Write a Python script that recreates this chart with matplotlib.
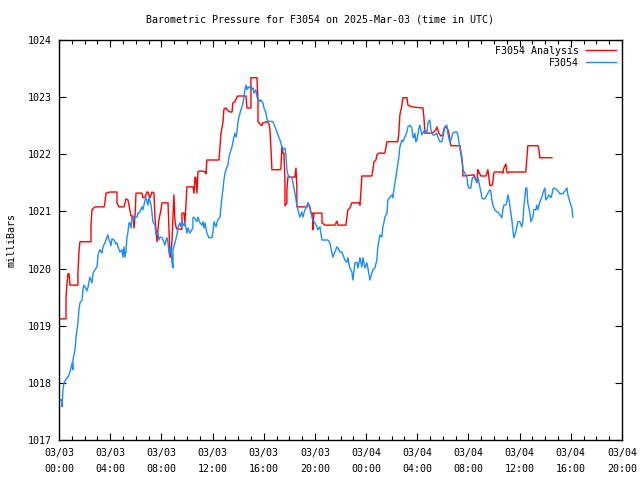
import matplotlib
matplotlib.use('Agg')
from matplotlib import pyplot as plt
from matplotlib.ticker import MultipleLocator

# hours since 2025-03-03 00:00 UTC, pressure in millibars
analysis_hours = [0.0, 0.55, 0.55, 0.62, 0.70, 0.78, 0.86, 1.48, 1.48, 1.56, 1.64, 2.50, 2.50, 2.58, 2.81,
                  3.52, 3.59, 3.67, 3.98, 4.53, 4.53, 4.69, 5.08, 5.16, 5.23, 5.39, 5.47, 5.63, 5.78, 5.86,
                  5.94, 6.02, 6.48, 6.56, 6.72, 6.88, 6.95, 7.11, 7.27, 7.42, 7.50, 7.66, 7.73, 7.81, 7.97,
                  8.05, 8.52, 8.59, 8.67, 8.75, 8.83, 8.91, 8.98, 9.06, 9.14, 9.22, 9.61, 9.61, 9.77, 9.84,
                  9.92, 10.00, 10.47, 10.55, 10.63, 10.70, 10.78, 10.86, 11.02, 11.48, 11.48, 11.56, 12.50,
                  12.58, 12.66, 12.81, 12.89, 13.05, 13.13, 13.36, 13.52, 13.59, 13.75, 13.91, 13.98, 14.61,
                  14.69, 15.00, 15.00, 15.47, 15.55, 15.55, 15.70, 15.86, 15.94, 16.25, 16.41, 16.48, 16.56,
                  16.64, 17.27, 17.34, 17.42, 17.50, 17.58, 17.66, 17.66, 17.81, 17.81, 17.89, 18.44, 18.52,
                  18.59, 18.59, 19.38, 19.45, 19.61, 19.69, 19.84, 19.84, 19.92, 20.55, 20.55, 20.78, 21.56,
                  21.72, 21.80, 22.42, 22.50, 22.58, 22.73, 22.89, 23.44, 23.52, 23.59, 23.67, 24.45, 24.53,
                  24.61, 24.77, 24.84, 25.00, 25.47, 25.63, 26.48, 26.56, 26.64, 26.80, 26.88, 27.19, 27.27,
                  27.58, 28.44, 28.52, 28.59, 29.14, 29.30, 29.45, 29.53, 29.69, 29.84, 30.00, 30.08, 30.16,
                  30.31, 30.39, 30.47, 30.63, 31.33, 31.48, 31.56, 31.56, 32.42, 32.50, 32.66, 32.73, 32.81,
                  32.97, 33.36, 33.44, 33.52, 33.59, 33.67, 33.83, 33.91, 33.98, 34.06, 34.61, 34.69, 34.77,
                  34.92, 35.00, 35.08, 35.16, 36.48, 36.56, 36.64, 37.42, 37.50, 37.58, 38.52]
analysis_mb = [1019.12, 1019.12, 1019.50, 1019.73, 1019.91, 1019.91, 1019.71, 1019.71, 1019.92, 1020.29,
               1020.47, 1020.47, 1020.75, 1021.03, 1021.08, 1021.08, 1021.15, 1021.32, 1021.34, 1021.34,
               1021.15, 1021.08, 1021.08, 1021.15, 1021.22, 1021.20, 1021.11, 1020.92, 1020.92, 1020.71,
               1020.92, 1021.32, 1021.32, 1021.24, 1021.25, 1021.34, 1021.34, 1021.24, 1021.34, 1021.32,
               1020.90, 1020.47, 1020.68, 1020.85, 1021.03, 1021.15, 1021.15, 1020.68, 1020.20, 1020.20,
               1020.50, 1020.90, 1021.29, 1020.85, 1020.73, 1020.69, 1020.69, 1020.97, 1020.97, 1020.80,
               1021.11, 1021.43, 1021.43, 1021.32, 1021.60, 1021.59, 1021.32, 1021.69, 1021.71, 1021.69,
               1021.66, 1021.90, 1021.90, 1022.13, 1022.37, 1022.55, 1022.79, 1022.81, 1022.78, 1022.74,
               1022.74, 1022.90, 1022.92, 1023.00, 1023.02, 1023.02, 1022.81, 1022.81, 1023.34, 1023.34,
               1022.95, 1022.57, 1022.53, 1022.50, 1022.55, 1022.57, 1022.53, 1022.43, 1022.13, 1021.73,
               1021.73, 1021.74, 1022.13, 1022.02, 1022.02, 1021.50, 1021.10, 1021.15, 1021.38, 1021.60,
               1021.60, 1021.76, 1021.43, 1021.08, 1021.08, 1021.15, 1021.08, 1020.97, 1020.97, 1020.68,
               1020.97, 1020.97, 1020.80, 1020.76, 1020.76, 1020.83, 1020.76, 1020.76, 1020.89, 1021.03,
               1021.06, 1021.15, 1021.15, 1021.11, 1021.32, 1021.62, 1021.62, 1021.73, 1021.87, 1021.90,
               1021.99, 1022.02, 1022.02, 1022.22, 1022.22, 1022.37, 1022.69, 1022.86, 1022.99, 1022.99,
               1022.86, 1022.83, 1022.81, 1022.65, 1022.37, 1022.37, 1022.39, 1022.43, 1022.48, 1022.37,
               1022.32, 1022.34, 1022.44, 1022.48, 1022.46, 1022.43, 1022.37, 1022.15, 1022.15, 1021.95,
               1021.78, 1021.62, 1021.64, 1021.60, 1021.50, 1021.73, 1021.69, 1021.62, 1021.62, 1021.67,
               1021.73, 1021.60, 1021.46, 1021.45, 1021.52, 1021.67, 1021.69, 1021.69, 1021.67, 1021.76,
               1021.83, 1021.69, 1021.67, 1021.69, 1021.69, 1021.92, 1022.15, 1022.15, 1022.09, 1021.94,
               1021.94]

obs_hours = [0.0, 0.23, 0.23, 0.31, 0.39, 0.63, 0.70, 0.86, 1.02, 1.09, 1.09, 1.25, 1.33, 1.48, 1.56, 1.64,
             1.80, 1.88, 1.95, 2.19, 2.27, 2.42, 2.58, 2.66, 2.81, 2.97, 3.05, 3.20, 3.36, 3.44, 3.59, 3.75,
             3.83, 3.91, 3.98, 4.06, 4.14, 4.30, 4.45, 4.53, 4.61, 4.77, 4.92, 5.00, 5.08, 5.16, 5.23, 5.31,
             5.39, 5.47, 5.55, 5.63, 5.70, 5.86, 5.94, 6.09, 6.17, 6.33, 6.48, 6.56, 6.72, 6.80, 6.95, 7.03,
             7.19, 7.27, 7.34, 7.50, 7.58, 7.73, 7.81, 7.89, 8.05, 8.13, 8.28, 8.36, 8.44, 8.52, 8.59, 8.75,
             8.83, 8.91, 8.91, 9.06, 9.22, 9.30, 9.45, 9.53, 9.61, 9.77, 9.84, 9.92, 10.00, 10.08, 10.23,
             10.39, 10.47, 10.47, 10.55, 10.70, 10.78, 10.86, 11.02, 11.17, 11.25, 11.33, 11.41, 11.56,
             11.72, 11.95, 12.03, 12.11, 12.27, 12.34, 12.42, 12.58, 12.66, 12.73, 12.81, 12.89, 12.97,
             13.13, 13.20, 13.28, 13.44, 13.52, 13.59, 13.67, 13.75, 13.83, 13.91, 13.98, 14.06, 14.22,
             14.30, 14.38, 14.45, 14.53, 14.61, 14.69, 14.77, 14.84, 15.00, 15.08, 15.16, 15.23, 15.39,
             15.47, 15.55, 15.70, 15.78, 15.94, 16.02, 16.17, 16.25, 16.33, 16.72, 16.88, 17.03, 17.11,
             17.27, 17.42, 17.50, 17.66, 17.73, 17.81, 17.89, 18.05, 18.20, 18.28, 18.44, 18.59, 18.67,
             18.83, 18.98, 19.06, 19.22, 19.38, 19.45, 19.61, 19.77, 19.84, 20.00, 20.16, 20.23, 20.39,
             20.55, 21.02, 21.17, 21.33, 21.41, 21.56, 21.72, 21.80, 21.95, 22.11, 22.19, 22.34, 22.50,
             22.58, 22.73, 22.89, 22.97, 23.13, 23.28, 23.36, 23.52, 23.67, 23.75, 23.91, 24.06, 24.14,
             24.30, 24.45, 24.53, 24.69, 24.84, 24.92, 25.08, 25.23, 25.31, 25.39, 25.47, 25.63, 25.70,
             25.86, 26.02, 26.09, 26.17, 26.33, 26.41, 26.56, 26.64, 26.80, 26.88, 27.03, 27.19, 27.27,
             27.42, 27.58, 27.66, 27.73, 27.81, 27.89, 27.97, 28.13, 28.20, 28.36, 28.44, 28.59, 28.75,
             28.83, 28.98, 29.06, 29.22, 29.38, 29.53, 29.61, 29.77, 29.92, 30.00, 30.16, 30.31, 30.39,
             30.55, 30.70, 30.78, 30.94, 31.09, 31.17, 31.33, 31.48, 31.56, 31.72, 31.88, 31.95, 32.03,
             32.19, 32.27, 32.34, 32.50, 32.66, 32.73, 32.81, 32.97, 33.05, 33.13, 33.28, 33.44, 33.52,
             33.67, 33.75, 33.83, 33.91, 34.06, 34.22, 34.30, 34.45, 34.61, 34.69, 34.77, 34.92, 35.00,
             35.08, 35.16, 35.23, 35.39, 35.47, 35.55, 35.70, 35.78, 35.86, 36.02, 36.17, 36.25, 36.33,
             36.48, 36.56, 36.64, 36.80, 36.88, 37.03, 37.11, 37.27, 37.34, 37.42, 37.58, 37.73, 37.81,
             37.97, 38.05, 38.20, 38.28, 38.44, 38.52, 38.59, 38.67, 38.91, 39.14, 39.38, 39.61, 39.69,
             39.77, 39.92, 40.08, 40.16]
obs_mb = [1017.70, 1017.70, 1017.58, 1017.88, 1018.00, 1018.09, 1018.10, 1018.19, 1018.35, 1018.23, 1018.40,
          1018.58, 1018.80, 1019.05, 1019.28, 1019.40, 1019.45, 1019.66, 1019.71, 1019.61, 1019.68, 1019.85,
          1019.75, 1019.92, 1019.98, 1020.03, 1020.24, 1020.33, 1020.27, 1020.38, 1020.45, 1020.55, 1020.59,
          1020.50, 1020.47, 1020.40, 1020.52, 1020.50, 1020.43, 1020.45, 1020.38, 1020.29, 1020.33, 1020.20,
          1020.38, 1020.20, 1020.29, 1020.54, 1020.64, 1020.80, 1020.80, 1020.71, 1020.90, 1020.85, 1020.90,
          1020.90, 1020.97, 1020.99, 1021.08, 1021.03, 1021.20, 1021.24, 1021.11, 1021.24, 1021.11, 1020.97,
          1020.82, 1020.76, 1020.59, 1020.62, 1020.50, 1020.55, 1020.54, 1020.50, 1020.41, 1020.50, 1020.54,
          1020.45, 1020.27, 1020.38, 1020.10, 1020.01, 1020.33, 1020.45, 1020.59, 1020.73, 1020.80, 1020.73,
          1020.82, 1020.75, 1020.80, 1020.71, 1020.62, 1020.71, 1020.62, 1020.68, 1020.73, 1020.89, 1020.90,
          1020.85, 1020.82, 1020.90, 1020.80, 1020.76, 1020.82, 1020.71, 1020.80, 1020.62, 1020.54, 1020.54,
          1020.64, 1020.82, 1020.73, 1020.80, 1020.85, 1020.90, 1021.08, 1021.24, 1021.38, 1021.55, 1021.67,
          1021.78, 1021.81, 1021.95, 1022.08, 1022.13, 1022.22, 1022.30, 1022.37, 1022.30, 1022.39, 1022.55,
          1022.65, 1022.78, 1022.83, 1022.90, 1023.00, 1023.13, 1023.21, 1023.13, 1023.18, 1023.16, 1023.20,
          1023.14, 1023.16, 1023.07, 1023.13, 1023.00, 1022.97, 1022.92, 1022.95, 1022.90, 1022.81, 1022.72,
          1022.62, 1022.58, 1022.57, 1022.48, 1022.39, 1022.34, 1022.25, 1022.13, 1022.08, 1022.11, 1021.99,
          1021.73, 1021.64, 1021.60, 1021.59, 1021.50, 1021.32, 1021.11, 1021.03, 1020.90, 1020.99, 1020.90,
          1021.03, 1021.08, 1021.15, 1021.06, 1020.90, 1020.85, 1020.80, 1020.73, 1020.68, 1020.73, 1020.50,
          1020.50, 1020.45, 1020.27, 1020.20, 1020.29, 1020.38, 1020.36, 1020.29, 1020.29, 1020.24, 1020.15,
          1020.11, 1020.19, 1020.01, 1019.94, 1019.80, 1020.10, 1020.11, 1020.01, 1020.19, 1020.03, 1020.19,
          1020.01, 1020.10, 1020.01, 1019.80, 1019.92, 1019.98, 1020.01, 1020.15, 1020.38, 1020.59, 1020.55,
          1020.73, 1020.80, 1020.90, 1020.97, 1021.20, 1021.25, 1021.29, 1021.24, 1021.38, 1021.60, 1021.73,
          1021.95, 1022.13, 1022.25, 1022.22, 1022.30, 1022.39, 1022.48, 1022.51, 1022.46, 1022.30, 1022.29,
          1022.37, 1022.22, 1022.25, 1022.46, 1022.51, 1022.34, 1022.37, 1022.43, 1022.37, 1022.55, 1022.60,
          1022.43, 1022.34, 1022.34, 1022.37, 1022.30, 1022.22, 1022.22, 1022.30, 1022.48, 1022.51, 1022.37,
          1022.20, 1022.30, 1022.37, 1022.39, 1022.39, 1022.34, 1022.11, 1021.90, 1021.73, 1021.67, 1021.60,
          1021.46, 1021.41, 1021.41, 1021.55, 1021.60, 1021.59, 1021.52, 1021.60, 1021.52, 1021.34, 1021.24,
          1021.22, 1021.22, 1021.29, 1021.32, 1021.38, 1021.34, 1021.20, 1021.11, 1021.03, 1020.99, 1020.99,
          1020.94, 1020.89, 1021.03, 1021.11, 1021.11, 1021.17, 1021.29, 1021.22, 1021.11, 1020.85, 1020.68,
          1020.54, 1020.64, 1020.73, 1020.82, 1020.82, 1020.73, 1020.82, 1021.08, 1021.41, 1021.41, 1021.15,
          1020.97, 1020.82, 1020.90, 1021.03, 1021.03, 1021.11, 1021.03, 1021.17, 1021.24, 1021.32, 1021.41,
          1021.20, 1021.25, 1021.29, 1021.24, 1021.29, 1021.38, 1021.41, 1021.38, 1021.31, 1021.31, 1021.38,
          1021.41, 1021.29, 1021.17, 1021.06, 1020.90]

tick_hours = [0, 4, 8, 12, 16, 20, 24, 28, 32, 36, 40, 44]
tick_labels = ['03/03\n00:00', '03/03\n04:00', '03/03\n08:00', '03/03\n12:00', '03/03\n16:00',
               '03/03\n20:00', '03/04\n00:00', '03/04\n04:00', '03/04\n08:00', '03/04\n12:00',
               '03/04\n16:00', '03/04\n20:00']

plt.rcParams['font.family'] = ['DejaVu Sans Mono']
plt.rcParams['font.size'] = 7.2

fig = plt.figure(figsize=(6.4, 4.8), dpi=100)
ax = fig.add_axes([59 / 640, 40 / 480, 563 / 640, 400 / 480])

ax.plot(analysis_hours, analysis_mb, color='#ff0000', lw=1.0, label='F3054 Analysis')
ax.plot(obs_hours, obs_mb, color='#1a8cff', lw=1.0, label='F3054')

ax.set_xlim(0, 44)
ax.set_ylim(1017, 1024)
ax.set_xticks(tick_hours)
ax.set_xticklabels(tick_labels, linespacing=1.75)
ax.xaxis.set_minor_locator(MultipleLocator(1))
ax.set_yticks(range(1017, 1025))
ax.tick_params(which='both', direction='in', top=True, right=True, width=0.8)
ax.tick_params(which='major', length=5)
ax.tick_params(which='minor', length=3)
ax.tick_params(axis='x', pad=6)
ax.tick_params(axis='y', pad=5)
for s in ax.spines.values():
    s.set_linewidth(1.0)

ax.set_ylabel('milliBars', labelpad=8)
fig.text(0.5, 1 - 20 / 480, 'Barometric Pressure for F3054 on 2025-Mar-03 (time in UTC)',
         ha='center', va='center')

ax.legend(loc='upper right', frameon=False, markerfirst=False, handlelength=3.0,
          borderaxespad=0.2, labelspacing=0.2, handletextpad=0.7)

fig.savefig('out.png', dpi=100)
